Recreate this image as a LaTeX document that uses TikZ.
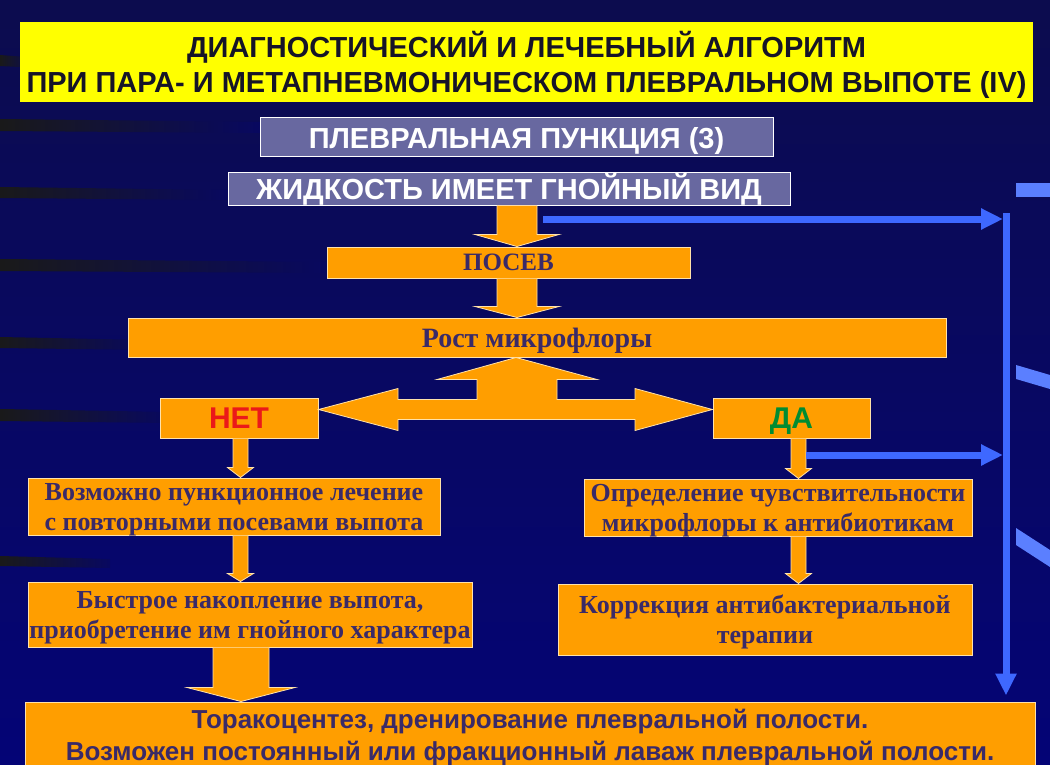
\documentclass[tikz,border=0pt]{standalone}
\usepackage{fontspec}
\setmainfont{Liberation Serif}
\newfontfamily\plainsans{Liberation Sans}
\usetikzlibrary{calc,arrows.meta}
\definecolor{bgtop}{RGB}{12,12,78}
\definecolor{bgbottom}{RGB}{4,4,118}
\definecolor{slidebg}{RGB}{8,8,96}
\definecolor{boxorange}{RGB}{255,158,0}
\definecolor{boxedge}{RGB}{255,226,170}
\definecolor{inkpurple}{RGB}{58,42,104}
\definecolor{slatebox}{RGB}{104,104,160}
\definecolor{railblue}{RGB}{62,104,255}
\definecolor{titleyellow}{RGB}{255,255,0}
\definecolor{titleink}{RGB}{22,20,40}
\definecolor{noRed}{RGB}{235,25,25}
\definecolor{yesGreen}{RGB}{0,140,50}
\tikzstyle{title box}=[fill=titleyellow, text=titleink, align=center, inner sep=0pt, text depth=0pt,
  font=\plainsans\bfseries\fontsize{29}{35}\selectfont]
\tikzstyle{slate box}=[draw=white, line width=1pt, fill=slatebox, text=white, inner sep=0pt,
  font=\plainsans\bfseries\fontsize{29}{30}\selectfont]
\tikzstyle{orange box}=[draw=boxedge, line width=1pt, fill=boxorange, text=inkpurple,
  align=center, inner sep=0pt, text depth=0pt, font=\bfseries\fontsize{26}{30}\selectfont]
\tikzstyle{answer}=[orange box, font=\plainsans\bfseries\fontsize{30}{30}\selectfont]
\tikzstyle{fat arrow}=[fill=boxorange, draw=boxedge, line width=0.8pt, line join=miter]
\tikzstyle{blue arrow}=[draw=railblue, line width=7pt, -{Triangle[length=22pt,width=20pt]}]
% vertical block arrow: x, from, to, half shaft, half head, head length
\newcommand{\fatdown}[6]{%
  \coordinate (fa) at (#1,0);
  \filldraw[fat arrow] ($(fa |- #2.south)+(-#4,0)$) -- ($(fa |- #3.north)+(-#4,-#6)$)
    -- ($(fa |- #3.north)+(-#5,-#6)$) -- (fa |- #3.north) -- ($(fa |- #3.north)+(#5,-#6)$)
    -- ($(fa |- #3.north)+(#4,-#6)$) -- ($(fa |- #2.south)+(#4,0)$);}

\begin{document}
\begin{tikzpicture}[x=1pt,y=-1pt]
\useasboundingbox (0,0) rectangle (1050,765);
\shade[top color=bgtop, bottom color=bgbottom] (0,0) rectangle (1050,765);

% streaks on the left, marks on the right
\foreach \ya/\yb/\xe in {55/66/40, 119/131/260, 187/198/230, 259/271/330, 337/348/150, 409/421/170, 556/566/110}
  \shade[left color=black!90, right color=slidebg] (0,\ya) -- (\xe,\ya+3) -- (\xe,\yb+2) -- (0,\yb) -- cycle;
\foreach \ya/\yb/\dy in {183/197/0, 365/379/10, 528/545/22}
  \fill[railblue!85] (1016,\ya) -- (1050,\ya+\dy) -- (1050,\yb+\dy) -- (1016,\yb) -- cycle;

\node[title box, minimum width=1013, minimum height=80] (title) at (526.5,62)
  {ДИАГНОСТИЧЕСКИЙ И ЛЕЧЕБНЫЙ АЛГОРИТМ\\ПРИ ПАРА- И МЕТАПНЕВМОНИЧЕСКОМ ПЛЕВРАЛЬНОМ ВЫПОТЕ (IV)};

\node[slate box, text depth=0pt, minimum width=513, minimum height=39] (puncture) at (516.5,137.5) {ПЛЕВРАЛЬНАЯ ПУНКЦИЯ (3)};
\node[slate box, minimum width=562, minimum height=32] (fluid) at (509,189) {ЖИДКОСТЬ ИМЕЕТ ГНОЙНЫЙ ВИД};

\node[orange box, minimum width=363, minimum height=31, font=\bfseries\fontsize{25}{30}\selectfont]
  (culture) at (508.5,262.5) {ПОСЕВ};
\node[orange box, minimum width=818, minimum height=39, font=\bfseries\fontsize{28}{30}\selectfont]
  (growth) at (537,337.5) {Рост микрофлоры};

\node[answer, text=noRed, minimum width=158, minimum height=40] (no) at (239,418) {НЕТ};
\node[answer, text=yesGreen, minimum width=157, minimum height=40] (yes) at (791.5,418) {ДА};

\node[orange box, minimum width=412, minimum height=57] (repeat) at (234,506.5)
  {Возможно пункционное лечение\\с повторными посевами выпота};
\node[orange box, minimum width=444, minimum height=65] (accum) at (250,614.5)
  {Быстрое накопление выпота,\\приобретение им гнойного характера};
\node[orange box, minimum width=388, minimum height=57] (sens) at (778,507.5)
  {Определение чувствительности\\микрофлоры к антибиотикам};
\node[orange box, minimum width=414, minimum height=71] (correct) at (765,619.5)
  {Коррекция антибактериальной\\терапии};

\node[orange box, minimum width=1010, minimum height=66, font=\plainsans\bfseries\fontsize{26}{32}\selectfont]
  (drain) at (530,735)
  {Торакоцентез, дренирование плевральной полости.\\Возможен постоянный или фракционный лаваж плевральной полости.};

% block arrows
\fatdown{517}{fluid}{culture}{20}{42}{12}
\fatdown{517}{culture}{growth}{20}{42}{11}
\fatdown{240.5}{no}{repeat}{7.5}{13}{10}
\fatdown{240.5}{repeat}{accum}{7.5}{13}{8}
\fatdown{798.5}{yes}{sens}{7.5}{13}{10}
\fatdown{798.5}{sens}{correct}{7.5}{13}{10}
\fatdown{241}{accum}{drain}{28}{54}{14}

% fork under the growth box
\coordinate (fork) at (516,409.5);
\filldraw[fat arrow] (fork |- growth.south) -- ($(fork)+(81,-30)$) -- ($(fork)+(41,-30)$)
  -- ($(fork)+(41,-10)$) -- ($(fork)+(119,-10)$) -- ($(fork)+(119,-21)$) -- (yes.west |- fork)
  -- ($(fork)+(119,21)$) -- ($(fork)+(119,10)$) -- ($(fork)+(-118,10)$) -- ($(fork)+(-118,21)$)
  -- (no.east |- fork) -- ($(fork)+(-118,-21)$) -- ($(fork)+(-118,-10)$) -- ($(fork)+(-39,-10)$)
  -- ($(fork)+(-39,-30)$) -- ($(fork)+(-79,-30)$) -- cycle;

% blue bypass
\coordinate (rail) at (1006,0);
\coordinate (rail pus) at (543,219);
\coordinate (rail yes) at (806,455);
\draw[blue arrow] (rail pus) -- ($(rail |- rail pus)+(-3,0)$);
\draw[blue arrow] (rail yes) -- ($(rail |- rail yes)+(-3,0)$);
\draw[blue arrow] ($(rail |- rail pus)+(0,-6)$) -- ($(rail |- drain.north)+(0,-6)$);
\end{tikzpicture}
\end{document}
